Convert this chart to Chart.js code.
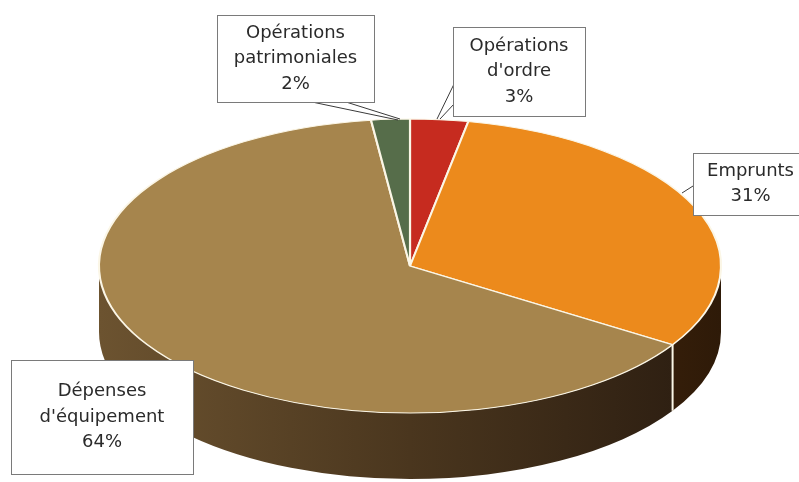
<!DOCTYPE html>
<html>
<head>
<meta charset="utf-8">
<script src="https://cdn.jsdelivr.net/npm/chart.js@4.4.0/dist/chart.umd.min.js"></script>
<style>
  html, body { margin: 0; padding: 0; background: #fff; }
  #wrap { width: 799px; height: 482px; position: relative; }
</style>
</head>
<body>
<div id="wrap"><canvas id="pieChart" width="799" height="482"></canvas></div>
<script>
// slices, clockwise from 12 o'clock
const categories = [
  ["Opérations", "d'ordre"],
  ["Emprunts"],
  ["Dépenses", "d'équipement"],
  ["Opérations", "patrimoniales"]
];
const shares = [3, 31, 64, 2];

const topColors = ['#C62B1F', '#EC8A1C', '#A6854D', '#566D4A'];
// side wall shading: left, middle, right
const sideColors = [
  ['#6a1a10', '#4a120a', '#2a0a05'],
  ['#7a4a1a', '#553010', '#2e1a08'],
  ['#6c5330', '#4a361e', '#2a1c10'],
  ['#3a4a30', '#2a3622', '#1a2214']
];

// ellipse of the top face and thickness of the disc
const CX = 410, CY = 266, RX = 311, RY = 147, DEPTH = 66;

// label boxes: x, y, w, h and pointer lines
const boxes = [
  { x: 453, y: 27, w: 132, h: 89, ptr: [[455, 82, 437, 119], [454, 104, 440, 119]] },
  { x: 693, y: 153, w: 115, h: 62, ptr: [[693, 186, 682, 193]] },
  { x: 11, y: 360, w: 182, h: 114, ptr: [] },
  { x: 217, y: 15, w: 157, h: 87, ptr: [[312, 102, 398, 120], [346, 102, 400, 119]] }
];

const ctx = document.getElementById('pieChart').getContext('2d');

const tiltPlugin = {
  id: 'tilt3d',
  beforeDatasetsDraw(chart) {
    const c = chart.ctx;
    const arcs = chart.getDatasetMeta(0).data;
    const grad = (cols) => {
      const g = c.createLinearGradient(CX - RX, 0, CX + RX, 0);
      g.addColorStop(0, cols[0]);
      g.addColorStop(0.5, cols[1]);
      g.addColorStop(1, cols[2]);
      return g;
    };

    // front part of the rim, angles between 0 and PI
    arcs.forEach((arc, i) => {
      const lo = Math.max(arc.startAngle, 0);
      const hi = Math.min(arc.endAngle, Math.PI);
      if (hi <= lo) return;
      c.beginPath();
      c.ellipse(CX, CY, RX, RY, 0, lo, hi);
      c.ellipse(CX, CY + DEPTH, RX, RY, 0, hi, lo, true);
      c.closePath();
      c.fillStyle = grad(sideColors[i]);
      c.fill();
    });

    // seams between slices on the rim
    c.strokeStyle = '#fbf6e6';
    c.lineWidth = 2;
    arcs.forEach((arc) => {
      const a = arc.endAngle;
      if (a > 0 && a < Math.PI) {
        const x = CX + RX * Math.cos(a), y = CY + RY * Math.sin(a);
        c.beginPath();
        c.moveTo(x, y);
        c.lineTo(x, y + DEPTH);
        c.stroke();
      }
    });

    // squash the round pie into the top face
    const a0 = arcs[0];
    c.save();
    c.translate(CX, CY);
    c.scale(RX / a0.outerRadius, RY / a0.outerRadius);
    c.translate(-a0.x, -a0.y);
  },
  afterDatasetsDraw(chart) {
    chart.ctx.restore();
  },
  afterDraw(chart) {
    const c = chart.ctx;
    c.save();
    c.lineWidth = 1;
    c.font = '18px "DejaVu Sans", sans-serif';
    c.textAlign = 'center';
    c.textBaseline = 'middle';
    boxes.forEach((b, i) => {
      c.strokeStyle = '#3a3a3a';
      b.ptr.forEach(p => {
        c.beginPath();
        c.moveTo(p[0], p[1]);
        c.lineTo(p[2], p[3]);
        c.stroke();
      });
      c.fillStyle = '#fff';
      c.fillRect(b.x, b.y, b.w, b.h);
      c.strokeStyle = '#7a7a7a';
      c.strokeRect(b.x + 0.5, b.y + 0.5, b.w, b.h);
      const lines = categories[i].concat(shares[i] + '%');
      const step = 25.5;
      const top = b.y + b.h / 2 - step * (lines.length - 1) / 2;
      c.fillStyle = '#2a2a2a';
      lines.forEach((t, k) => c.fillText(t, b.x + b.w / 2, top + k * step));
    });
    c.restore();
  }
};

new Chart(ctx, {
  type: 'pie',
  data: {
    labels: categories,
    datasets: [{
      data: shares,
      backgroundColor: topColors,
      borderColor: '#fbf6e6',
      borderWidth: 1.6
    }]
  },
  options: {
    responsive: false,
    animation: false,
    rotation: 0,
    layout: { padding: 10 },
    plugins: {
      legend: { display: false },
      tooltip: { enabled: false }
    }
  },
  plugins: [tiltPlugin]
});
</script>
</body>
</html>
